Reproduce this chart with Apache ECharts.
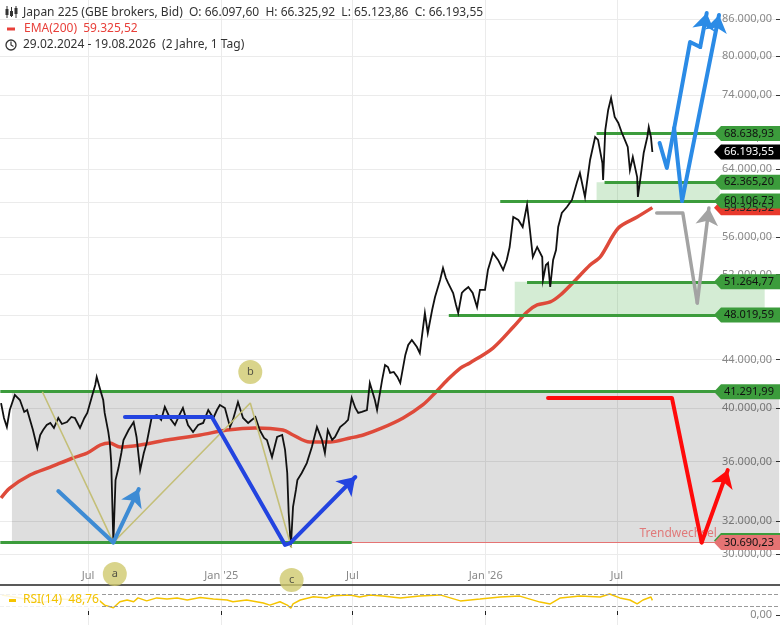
<!DOCTYPE html>
<html><head><meta charset="utf-8">
<script src="https://cdn.jsdelivr.net/npm/echarts@6/dist/echarts.min.js"></script>
<style>html,body{margin:0;padding:0;background:#fff}#c{width:780px;height:625px}</style>
</head><body><div id="c"></div>
<script>
// ---------- DATA ----------
const priceDates = ['2024-03-03','2024-03-07','2024-03-11','2024-03-15','2024-03-22','2024-03-29','2024-04-04','2024-04-08','2024-04-16','2024-04-22','2024-04-26','2024-04-30','2024-05-05','2024-05-10','2024-05-15','2024-05-21','2024-05-26','2024-06-02','2024-06-08','2024-06-13','2024-06-20','2024-06-26','2024-06-30','2024-07-07','2024-07-11','2024-07-13','2024-07-18','2024-07-22','2024-07-24','2024-07-29','2024-07-31','2024-08-02','2024-08-05','2024-08-08','2024-08-12','2024-08-16','2024-08-19','2024-08-26','2024-09-02','2024-09-06','2024-09-11','2024-09-16','2024-09-20','2024-09-27','2024-10-04','2024-10-10','2024-10-15','2024-10-22','2024-10-29','2024-11-04','2024-11-09','2024-11-16','2024-11-23','2024-11-30','2024-12-07','2024-12-14','2024-12-21','2024-12-26','2024-12-30','2025-01-06','2025-01-13','2025-01-17','2025-01-24','2025-01-31','2025-02-07','2025-02-17','2025-02-23','2025-03-01','2025-03-05','2025-03-12','2025-03-19','2025-03-26','2025-03-30','2025-04-02','2025-04-04','2025-04-07','2025-04-10','2025-04-14','2025-04-16','2025-04-22','2025-04-29','2025-05-06','2025-05-13','2025-05-20','2025-05-24','2025-05-28','2025-06-03','2025-06-07','2025-06-14','2025-06-21','2025-06-25','2025-06-30','2025-07-05','2025-07-09','2025-07-14','2025-07-21','2025-07-25','2025-08-01','2025-08-04','2025-08-11','2025-08-15','2025-08-19','2025-08-22','2025-08-27','2025-09-01','2025-09-05','2025-09-12','2025-09-16','2025-09-21','2025-09-28','2025-10-02','2025-10-09','2025-10-13','2025-10-19','2025-10-23','2025-10-30','2025-11-03','2025-11-07','2025-11-10','2025-11-17','2025-11-21','2025-11-24','2025-11-29','2025-12-03','2025-12-08','2025-12-14','2025-12-20','2025-12-24','2025-12-31','2026-01-04','2026-01-11','2026-01-18','2026-01-25','2026-01-30','2026-02-03','2026-02-08','2026-02-15','2026-02-21','2026-02-27','2026-03-03','2026-03-07','2026-03-13','2026-03-20','2026-03-21','2026-03-25','2026-03-28','2026-03-31','2026-04-04','2026-04-08','2026-04-11','2026-04-16','2026-04-23','2026-04-30','2026-05-07','2026-05-11','2026-05-18','2026-05-25','2026-06-01','2026-06-05','2026-06-11','2026-06-12','2026-06-15','2026-06-19','2026-06-23','2026-06-28','2026-07-03','2026-07-08','2026-07-12','2026-07-16','2026-07-19','2026-07-23','2026-07-29','2026-07-30','2026-08-04','2026-08-07','2026-08-12','2026-08-14','2026-08-17','2026-08-19'];
const priceCloses = [40380,39210,38520,39830,41030,40620,39680,39830,38290,36960,37920,38290,38670,38830,38450,39210,38750,38900,39290,39210,38450,39210,39600,41030,41840,42510,41430,40620,39600,38150,37400,35960,30700,34700,35530,36600,37550,38290,38900,37770,35390,36600,37330,39290,39440,39060,40070,39210,38670,39440,39990,38670,38150,38670,38830,39830,39210,39830,40230,39990,38520,39060,40460,39210,38830,39290,38290,37700,37550,36310,37770,37920,36820,35190,32520,30420,32910,34030,34700,35190,35880,37030,38520,37550,36600,38290,37550,37770,38520,38830,39060,40790,39990,39600,39680,39830,42010,40620,39830,42260,43520,43350,42850,42930,42510,42010,44390,45270,45720,45090,44560,48210,46350,48500,49750,51450,52680,51650,51150,50150,48980,48210,50150,50450,50750,50150,48780,50450,50450,52470,54260,53520,52470,53520,54900,58240,57900,57110,59640,56770,53830,54900,53830,51450,52990,53200,50750,53520,54580,57110,58710,59400,60230,62390,63510,60590,65160,68180,67780,64770,62640,69120,71900,73610,70910,70080,68710,67780,66850,63890,65540,63010,60590,63890,66060,68180,69530,68180,66190];

const emaDates = ['2024-03-03','2024-03-15','2024-04-12','2024-05-10','2024-06-10','2024-06-30','2024-07-18','2024-07-31','2024-08-14','2024-09-11','2024-10-18','2024-12-03','2025-01-09','2025-02-17','2025-03-27','2025-04-10','2025-05-03','2025-05-31','2025-06-28','2025-07-16','2025-08-11','2025-09-09','2025-10-06','2025-10-23','2025-11-09','2025-11-27','2025-12-10','2026-01-11','2026-02-08','2026-02-27','2026-03-13','2026-03-31','2026-04-14','2026-05-01','2026-05-25','2026-06-08','2026-07-03','2026-07-29','2026-08-19'];
const emaValues = [33500,34160,35050,35600,36240,36600,37180,37330,37030,37180,37550,37920,38290,38450,38290,37920,37400,37400,37700,37920,38450,39210,40230,41190,42260,43260,43700,45000,46900,48310,48980,49270,49950,51150,52990,53830,56990,58240,59325.52];

const rsiDates = ['2024-03-04','2024-03-29','2024-04-26','2024-05-23','2024-06-20','2024-07-11','2024-07-24','2024-08-05','2024-08-14','2024-08-24','2024-09-02','2024-09-08','2024-09-20','2024-10-04','2024-10-18','2024-11-01','2024-11-15','2024-12-03','2024-12-21','2025-01-09','2025-01-17','2025-02-05','2025-02-28','2025-03-09','2025-03-23','2025-04-02','2025-04-07','2025-04-10','2025-04-20','2025-05-08','2025-05-27','2025-06-04','2025-06-28','2025-07-11','2025-07-25','2025-08-12','2025-09-05','2025-10-02','2025-10-30','2025-11-27','2025-12-24','2026-01-21','2026-02-17','2026-03-17','2026-03-31','2026-04-14','2026-05-11','2026-06-08','2026-06-21','2026-07-05','2026-07-19','2026-07-29','2026-08-06','2026-08-17','2026-08-19'];
const rsiValues = [67,57,40,53,50,60,33,24,44,50,44,57,47,57,53,57,50,58,53,50,44,50,40,33,44,33,23,37,50,61,57,64,67,60,67,63,57,63,67,47,53,60,63,43,37,57,63,60,70,57,50,37,50,60,48.76];

const monthTicks = ['2024-07-01','2025-01-01','2025-07-01','2026-01-01','2026-07-01'];
const priceTicks = [30000,32000,36000,40000,44000,48000,52000,56000,60000,64000,68000,74000,80000,86000];

// horizontal levels
const levelValues = [68638.93,62365.20,60106.73,51264.77,48019.59,41291.99,30690.23];
const levelStart  = ['2026-06-03','2026-06-14','2026-01-21','2026-02-27','2025-11-11','2024-03-02','2024-03-02'];
const levelEnd    = ['2026-11-20','2026-11-20','2026-11-20','2026-11-20','2026-11-20','2026-11-20','2025-06-30'];
const trendValue = 30690.23, trendStart = '2025-02-12', trendEnd = '2026-11-20', trendText = 'Trendwechsel';

// zones
const zoneFrom = ['2024-03-18','2026-06-03','2026-02-10'];
const zoneTo   = ['2027-02-10','2026-11-20','2027-01-21'];
const zoneHigh = [41291.99,62365.20,51264.77];
const zoneLow  = [30690.23,60106.73,48019.59];

// right-hand value tags
const tagValues = [68638.93,66193.55,62365.20,59325.52,60106.73,51264.77,48019.59,41291.99,30690.23,30690.23];
const tagKinds  = ['level','last','level','ema','level','level','level','level','levelBack','trend'];

// drawings
const waveDates = ['2024-04-29','2024-08-05','2025-02-10','2025-04-08'];
const waveValues = [41290,30690,40380,30360];
const vDates = ['2024-05-21','2024-08-05','2024-09-09'];
const vValues = [33960,30690,34090];
const dropDates = ['2024-08-21','2024-12-19','2025-03-30','2025-04-06','2025-07-05'];
const dropValues = [39290,39290,30540,30650,34910];
const upADates = ['2026-08-29','2026-09-08','2026-10-10','2026-10-24','2026-11-02'];
const upAValues = [67370,64140,82190,81390,87020];
const upBDates = ['2026-09-18','2026-09-29','2026-11-19'];
const upBValues = [69390,60110,86680];
const redDates = ['2026-03-28','2026-09-15','2026-10-26','2026-12-01'];
const redValues = [40790,40790,30690,35390];
const greyDates = ['2026-08-25','2026-09-30','2026-10-20','2026-11-05'];
const greyValues = [58700,58700,49170,59280];
const waveLabelNames = ['a','b','c'];
const waveLabelDates = ['2024-08-07','2025-02-10','2025-04-08'];
const waveLabelValues = [28840,42930,28500];

// ---------- HELPERS ----------
const T = s => new Date(s.length === 10 ? s + 'T00:00:00' : s).getTime();
const pts = (ds, vs) => ds.map((d, i) => [T(d), vs[i]]);
const de = v => { let [i, f] = (Math.round(v * 100) / 100).toFixed(2).split('.'); i = i.replace(/\B(?=(\d{3})+(?!\d))/g, '.'); return i + ',' + f; };
const FONT = '"Noto Sans", sans-serif';
const xMin = T('2024-03-01T12:40:00'), xMax = T('2027-02-11T04:00:00');
const tagX = T('2026-12-27T14:00:00');
const GREEN = '#3c9c3c';

const tagStyle = {
  level: {fill: GREEN, text: '#111'},
  last: {fill: '#000', text: '#fff'},
  ema: {fill: '#e8392c', text: '#222'},
  levelBack: {fill: GREEN, text: '#111', offset: -2, hide: true},
  trend: {fill: '#e57373', text: '#111'}
};

// body as a polyline, last segment as a straight line carrying the arrow head
const arrowSeries = (dates, values, color, width) => {
  const p = pts(dates, values);
  const ls = {color: color, width: width, opacity: 1, cap: 'round', join: 'round'};
  const out = [];
  if (p.length > 2) {
    out.push({type: 'lines', coordinateSystem: 'cartesian2d', xAxisIndex: 0, yAxisIndex: 0,
      polyline: true, z: 8, silent: true, lineStyle: ls, data: [{coords: p.slice(0, p.length - 1)}]});
  }
  out.push({type: 'lines', coordinateSystem: 'cartesian2d', xAxisIndex: 0, yAxisIndex: 0,
    polyline: false, symbol: ['none', 'arrow'], symbolSize: [0, 17], z: 8, silent: true, lineStyle: ls,
    data: [{coords: p.slice(p.length - 2)}]});
  return out;
};

const monthLabel = v => { const d = new Date(v); return d.getMonth() === 0 ? "Jan '" + String(d.getFullYear()).slice(2) : 'Jul'; };

const chart = echarts.init(document.getElementById('c'), null, {renderer: 'canvas'});
const option = {
  animation: false,
  backgroundColor: '#fff',
  grid: [
    {left: 0, right: 0, top: 0, bottom: 40, containLabel: false},
    {left: 0, right: 0, top: 585, bottom: 0, containLabel: false}
  ],
  xAxis: [
    {type: 'value', gridIndex: 0, min: xMin, max: xMax, position: 'bottom', scale: true,
     axisLine: {show: true, onZero: false, lineStyle: {color: '#222', width: 1.5}},
     axisTick: {show: false, customValues: monthTicks.map(T)},
     axisLabel: {inside: true, margin: 4, customValues: monthTicks.map(T), color: '#888', fontSize: 11, fontFamily: FONT,
       formatter: monthLabel},
     splitLine: {show: true, lineStyle: {color: '#ebebeb', width: 1}}},
    {type: 'value', gridIndex: 1, min: xMin, max: xMax, position: 'bottom', scale: true,
     axisLine: {show: false},
     axisTick: {show: true, inside: true, length: 4, customValues: monthTicks.map(T), lineStyle: {color: '#222'}},
     axisLabel: {show: false, customValues: monthTicks.map(T)},
     splitLine: {show: true, lineStyle: {color: '#ebebeb', width: 1}}}
  ],
  yAxis: [
    {type: 'log', gridIndex: 0, min: 28224, max: 89280, position: 'right',
     axisLine: {show: false},
     axisTick: {show: true, inside: true, length: 4, customValues: priceTicks, lineStyle: {color: '#333'}},
     axisLabel: {inside: true, margin: 8, customValues: priceTicks, formatter: v => de(v), color: '#888', fontSize: 11, fontFamily: FONT},
     splitLine: {show: true, lineStyle: {color: '#ebebeb', width: 1}}},
    {type: 'value', gridIndex: 1, min: -33.333, max: 100, position: 'right',
     axisLine: {show: false},
     axisTick: {show: true, inside: true, length: 4, customValues: [0], lineStyle: {color: '#333'}},
     axisLabel: {inside: true, margin: 8, customValues: [0], formatter: v => de(v), color: '#888', fontSize: 11, fontFamily: FONT},
     splitLine: {show: false}}
  ],
  series: [
    {type: 'line', xAxisIndex: 0, yAxisIndex: 0, data: [], z: 1, silent: true,
     markArea: {silent: true, itemStyle: {color: 'rgba(0,0,0,0.13)'},
       data: [[{coord: [T(zoneFrom[0]), zoneHigh[0]]}, {coord: [T(zoneTo[0]), zoneLow[0]]}]]}},
    {name: 'EMA(200)', type: 'line', xAxisIndex: 0, yAxisIndex: 0, data: pts(emaDates, emaValues), smooth: 0.3,
     showSymbol: false, lineStyle: {color: '#de4a3a', width: 3.5}, z: 2, silent: true},
    {type: 'line', xAxisIndex: 0, yAxisIndex: 0, data: [], z: 3, silent: true,
     markArea: {silent: true, itemStyle: {color: 'rgba(60,170,60,0.22)'},
       data: [1, 2].map(i => [{coord: [T(zoneFrom[i]), zoneHigh[i]]}, {coord: [T(zoneTo[i]), zoneLow[i]]}])}},
    {name: 'Japan 225', type: 'line', xAxisIndex: 0, yAxisIndex: 0, data: pts(priceDates, priceCloses),
     showSymbol: false, lineStyle: {color: '#111', width: 1.8, join: 'miter'}, z: 5, silent: true},
    {type: 'line', xAxisIndex: 0, yAxisIndex: 0, data: [], z: 6, silent: true,
     markLine: {silent: true, symbol: 'none', animation: false,
       data: [
         [{coord: [T(trendStart), trendValue], lineStyle: {color: '#e57373', width: 1, type: 'solid'},
           label: {show: true, formatter: trendText, position: 'insideEndTop', distance: 3, color: '#e07a7a', fontSize: 12, fontFamily: FONT}},
          {coord: [T(trendEnd), trendValue]}]
       ].concat(levelValues.map((v, i) => [
         {coord: [T(levelStart[i]), v], lineStyle: {color: GREEN, width: 3, type: 'solid'}, label: {show: false}},
         {coord: [T(levelEnd[i]), v]}]))}},
    {type: 'line', xAxisIndex: 0, yAxisIndex: 0, data: pts(waveDates, waveValues), showSymbol: false,
     lineStyle: {color: '#c4bf78', width: 1.6}, z: 7, silent: true}
  ].concat(
    arrowSeries(vDates, vValues, '#3d8bd4', 4),
    arrowSeries(dropDates, dropValues, '#2344e0', 4),
    arrowSeries(upADates, upAValues, '#2b8be6', 4),
    arrowSeries(upBDates, upBValues, '#2b8be6', 4),
    arrowSeries(greyDates, greyValues, '#a3a3a3', 3.5),
    arrowSeries(redDates, redValues, '#ff0a0a', 4),
  [
    {type: 'scatter', xAxisIndex: 0, yAxisIndex: 0, z: 9, silent: true, symbolSize: 24,
     itemStyle: {color: '#cfc96e'},
     label: {show: true, position: 'inside', formatter: p => p.name, color: '#333', fontSize: 11, fontFamily: FONT},
     data: waveLabelNames.map((n, i) => ({name: n, value: [T(waveLabelDates[i]), waveLabelValues[i]]}))},
    {type: 'line', xAxisIndex: 0, yAxisIndex: 0, data: [], z: 10, silent: true,
     markPoint: {silent: true, symbol: 'path://M0,8L7,0L66,0L66,16L7,16Z', symbolSize: [66, 15], symbolKeepAspect: false,
       data: tagValues.map((v, i) => {
         const s = tagStyle[tagKinds[i]];
         return {coord: [tagX, v], value: v, symbolOffset: [0, s.offset || 0],
           itemStyle: {color: s.fill},
           label: {show: !s.hide, position: 'inside', offset: [2, 0], formatter: de(v), color: s.text, fontSize: 11, fontFamily: FONT}};
       })}},
    {name: 'RSI(14)', type: 'line', xAxisIndex: 1, yAxisIndex: 1, data: pts(rsiDates, rsiValues), showSymbol: false,
     lineStyle: {color: '#f5c400', width: 1.5}, z: 3, silent: true,
     markLine: {silent: true, symbol: 'none', label: {show: false}, lineStyle: {type: 'dashed', color: '#9a9a9a', width: 1},
       data: [{yAxis: 70}, {yAxis: 30}]}}
  ]),
  graphic: [
    {type: 'group', z: 100, children: [
      {type: 'line', shape: {x1: 7, y1: 6, x2: 7, y2: 18}, style: {stroke: '#333', lineWidth: 1}},
      {type: 'rect', shape: {x: 5.5, y: 9, width: 3, height: 6}, style: {fill: '#333'}},
      {type: 'line', shape: {x1: 11.5, y1: 7, x2: 11.5, y2: 17}, style: {stroke: '#333', lineWidth: 1}},
      {type: 'rect', shape: {x: 10, y: 11, width: 3, height: 5}, style: {fill: '#333'}},
      {type: 'line', shape: {x1: 16, y1: 6, x2: 16, y2: 18}, style: {stroke: '#333', lineWidth: 1}},
      {type: 'rect', shape: {x: 14.5, y: 8, width: 3, height: 6}, style: {fill: '#333'}}
    ]},
    {type: 'text', z: 100, x: 23, y: 13, style: {text: 'Japan 225 (GBE brokers, Bid)  O: 66.097,60  H: 66.325,92  L: 65.123,86  C: 66.193,55', fill: '#333', font: '12px ' + FONT, verticalAlign: 'middle'}},
    {type: 'rect', z: 100, shape: {x: 7, y: 27.5, width: 8, height: 3}, style: {fill: '#e8403a'}},
    {type: 'text', z: 100, x: 24, y: 29, style: {text: 'EMA(200)  59.325,52', fill: '#e8403a', font: '12px ' + FONT, verticalAlign: 'middle'}},
    {type: 'circle', z: 100, shape: {cx: 11, cy: 45, r: 5}, style: {stroke: '#333', fill: 'none', lineWidth: 1.3}},
    {type: 'polyline', z: 100, shape: {points: [[11, 41.5], [11, 45], [13.5, 46.5]]}, style: {stroke: '#333', fill: 'none', lineWidth: 1.2}},
    {type: 'text', z: 100, x: 23, y: 45, style: {text: '29.02.2024 - 19.08.2026  (2 Jahre, 1 Tag)', fill: '#333', font: '12px ' + FONT, verticalAlign: 'middle'}},
    {type: 'rect', z: 100, shape: {x: 0, y: 592, width: 100, height: 16}, style: {fill: 'rgba(255,255,255,0.85)'}},
    {type: 'rect', z: 101, shape: {x: 9, y: 599, width: 7, height: 3}, style: {fill: '#f5c400'}},
    {type: 'text', z: 101, x: 23, y: 600, style: {text: 'RSI(14)  48,76', fill: '#f2c200', font: '12px ' + FONT, verticalAlign: 'middle'}}
  ]
};
chart.setOption(option);
</script>
</body></html>
